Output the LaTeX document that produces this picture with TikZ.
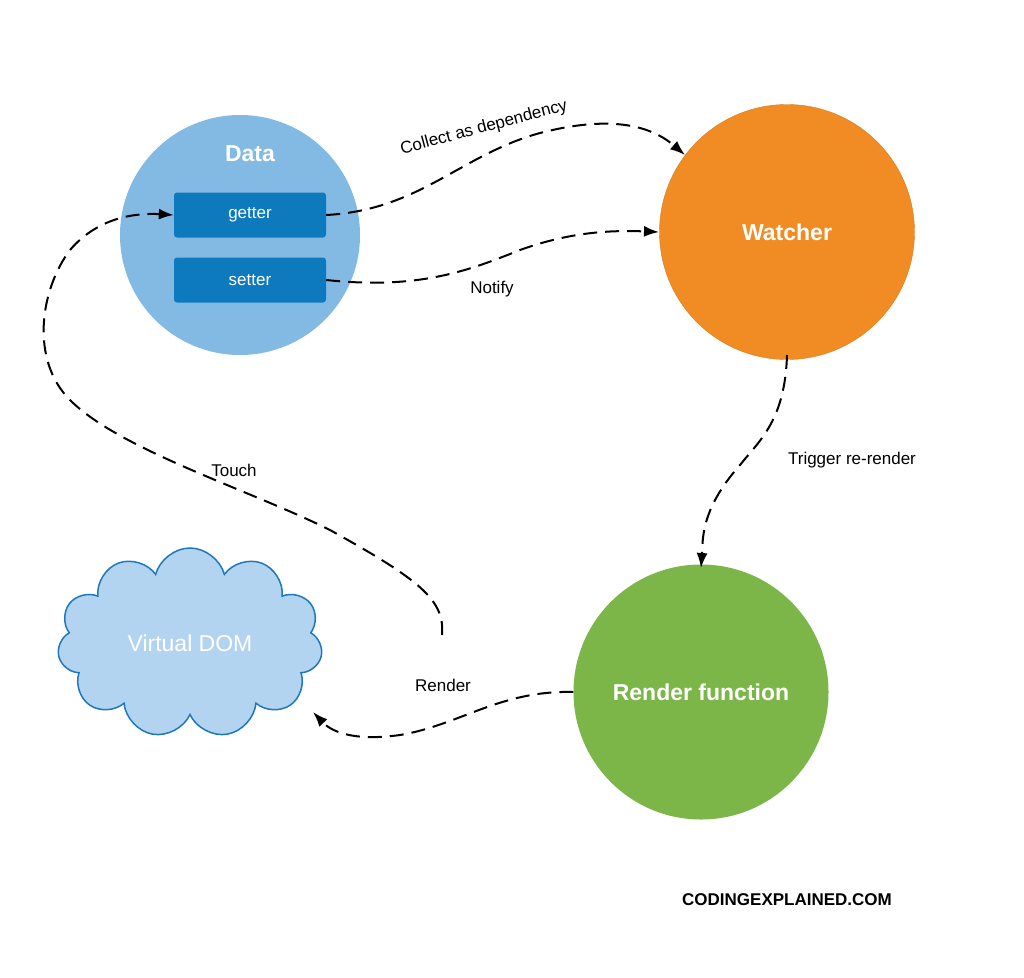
\documentclass[tikz,border=0pt]{standalone}
\usepackage{fontspec}
\setmainfont{Liberation Sans}
\usetikzlibrary{shapes.symbols,arrows.meta}
\definecolor{dataC}{RGB}{130,186,228}
\definecolor{boxC}{RGB}{14,122,190}
\definecolor{watchC}{RGB}{240,140,35}
\definecolor{rendC}{RGB}{124,182,73}
\definecolor{cloudC}{RGB}{178,212,240}
\definecolor{cloudB}{RGB}{30,120,190}
\tikzset{
  big/.style={circle,inner sep=0pt,font=\bfseries\fontsize{23}{26}\selectfont,text=white},
  acc/.style={fill=boxC,rounded corners=3pt,minimum width=152pt,minimum height=45pt,text=white,font=\fontsize{17}{20}\selectfont},
  conn/.style={dashed,dash pattern=on 14pt off 8pt,line width=2pt,-{Latex[length=15pt,width=11pt]}},
  lab/.style={font=\fontsize{17}{20}\selectfont}
}
\begin{document}
\begin{tikzpicture}[x=1pt,y=-1pt]
\useasboundingbox[fill=white] (0,0) rectangle (1024,977);
\node[big,fill=dataC,minimum size=240pt] (data) at (240,235) {};
\node[font=\bfseries\fontsize{23}{26}\selectfont,text=white] (dlab) at (250,154) {Data};
\node[acc] (getter) at (250,215) {getter};
\node[acc] (setter) at (250,280) {setter};
\node[big,fill=watchC,draw=watchC!90!black,minimum size=255pt] (watch) at (787,232) {Watcher};
\node[big,fill=rendC,minimum size=255pt] (rend) at (701,692) {Render function};
\node[cloud,cloud puffs=11,aspect=1.4,fill=cloudC,draw=cloudB,line width=1.5pt,minimum width=265pt,minimum height=190pt,text=white,font=\fontsize{23}{26}\selectfont] (vdom) at (190,643) {Virtual DOM};
\coordinate (tstart) at (442,635);
\coordinate (wtop) at (685,155);
\coordinate (wleft) at (659,232);
\coordinate (wbot) at (787,355);
\coordinate (rtop) at (701,568);
\coordinate (cloudin) at (313,712);
\draw[conn] (getter.east) .. controls (420,210) and (460,155) .. (540,133) .. controls (610,115) and (650,125) .. (wtop);
\draw[conn] (setter.east) .. controls (420,290) and (470,270) .. (520,250) .. controls (570,232) and (610,230) .. (wleft);
\draw[conn] (wbot) .. controls (785,420) and (760,440) .. (740,465) .. controls (700,510) and (703,540) .. (rtop);
\draw[conn] (rend.west) .. controls (500,690) and (460,725) .. (400,735) .. controls (350,742) and (330,730) .. (cloudin);
\draw[conn] (tstart) .. controls (445,600) and (420,580) .. (330,530) .. controls (250,490) and (120,450) .. (70,400) .. controls (30,360) and (40,290) .. (70,250) .. controls (100,215) and (140,213) .. (getter.west);
\node[lab,rotate=15] (l1) at (484,128) {Collect as dependency};
\node[lab] (l2) at (492,289) {Notify};
\node[lab] (l3) at (852,460) {Trigger re-render};
\node[lab] (l4) at (234,470) {Touch};
\node[lab] (l5) at (443,685) {Render};
\node[font=\bfseries\fontsize{17}{20}\selectfont] (wm) at (787,900) {CODINGEXPLAINED.COM};
\end{tikzpicture}
\end{document}
